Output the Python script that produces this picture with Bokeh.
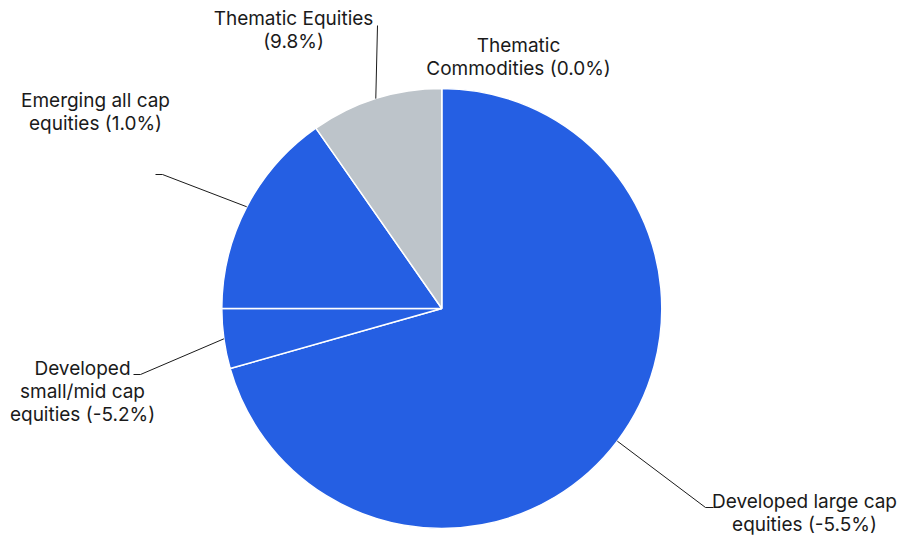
import math
from bokeh.plotting import figure
from bokeh.models import Range1d, ColumnDataSource
from bokeh.core.properties import value
from bokeh.embed import file_html
from bokeh.resources import INLINE

# ---- data ----
categories = ["Developed large cap equities", "Developed small/mid cap equities",
              "Emerging all cap equities", "Thematic Equities", "Thematic Commodities"]
weights = [70.6, 4.4, 15.3, 9.7, 0.0]          # slice share (%)
returns = ["-5.5%", "-5.2%", "1.0%", "9.8%", "0.0%"]
label_lines = [
    ["Developed large cap", "equities (-5.5%)"],
    ["Developed", "small/mid cap", "equities (-5.2%)"],
    ["Emerging all cap", "equities (1.0%)"],
    ["Thematic Equities", "(9.8%)"],
    ["Thematic", "Commodities (0.0%)"],
]
colors = ["#255FE3", "#255FE3", "#255FE3", "#BDC4CA", "#255FE3"]

# ---- layout ----
W, H = 909, 538
cx, cy = 441.3, H - 308.0
R = 220.0
FONT = "Inter"
FS = "19px"
LH = 23

p = figure(width=W, height=H, output_backend="svg", toolbar_location=None,
           x_range=Range1d(0, W), y_range=Range1d(0, H), min_border=0)
p.axis.visible = False
p.grid.visible = False
p.outline_line_color = None
p.background_fill_color = "white"

total = sum(weights)
starts, ends, cols, cats = [], [], [], []
allmids = []
acc = 0.0
for w, c, k in zip(weights, colors, categories):
    t1 = acc / total * 2 * math.pi
    acc += w
    t2 = acc / total * 2 * math.pi
    allmids.append((t1 + t2) / 2)
    if w <= 0:
        continue
    # clockwise from 12 o'clock -> bokeh anticlockwise from +x
    starts.append(math.pi / 2 - t2)
    ends.append(math.pi / 2 - t1)
    cols.append(c)
    cats.append(k)

src = ColumnDataSource(dict(start=starts, end=ends, color=cols, cat=cats))
p.wedge(x=cx, y=cy, radius=R, start_angle="start", end_angle="end",
        fill_color="color", line_color="white", line_width=1.5, source=src)

# label anchors (layout)
anchors = [
    dict(pts=[(705, 507), (713, 507)], tx=804, ty=501),
    dict(pts=[(140, 374), (133, 374)], tx=82, ty=368),
    dict(pts=[(162, 174), (155, 174)], tx=95, ty=100),
    dict(pts=[(377, 25)], tx=293, ty=18),
    dict(pts=None, tx=518, ty=45),
]

for i, a in enumerate(anchors):
    if a["pts"] is not None and weights[i] > 0:
        th = allmids[i]
        sx = cx + R * math.sin(th)
        sy = cy + R * math.cos(th)
        xs = [sx] + [q[0] for q in a["pts"]]
        ys = [sy] + [H - q[1] for q in a["pts"]]
        p.line(xs, ys, line_color="#1a1a1a", line_width=1)
    lines = label_lines[i]
    tx = [a["tx"]] * len(lines)
    ty = [H - (a["ty"] + k * LH) for k in range(len(lines))]
    p.text(x=tx, y=ty, text=lines, text_font=value(FONT), text_font_size=FS,
           text_align="center", text_baseline="middle", text_color="#1a1a1a")

open("out.html", "w").write(file_html(p, INLINE))
